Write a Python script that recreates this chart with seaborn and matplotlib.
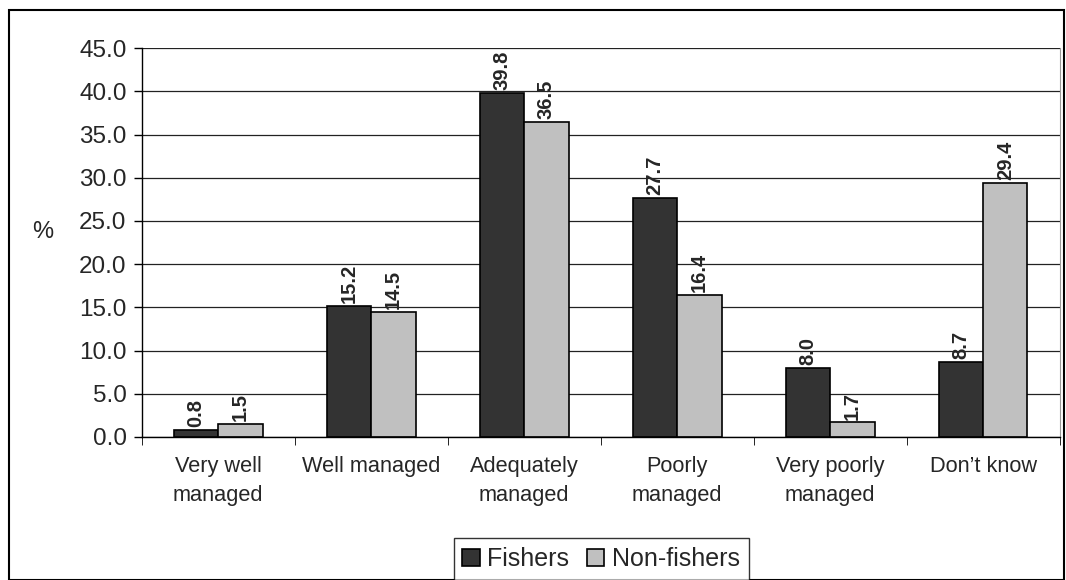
import pandas as pd
import matplotlib
matplotlib.use("Agg")
import matplotlib.pyplot as plt
import seaborn as sns
from matplotlib.patches import Rectangle

categories = ["Very well\nmanaged", "Well managed", "Adequately\nmanaged",
              "Poorly\nmanaged", "Very poorly\nmanaged", "Don\u2019t know"]
fishers = [0.8, 15.2, 39.8, 27.7, 8.0, 8.7]
non_fishers = [1.5, 14.5, 36.5, 16.4, 1.7, 29.4]
groups = ["Fishers", "Non-fishers"]
yticks = [0, 5, 10, 15, 20, 25, 30, 35, 40, 45]

df = pd.DataFrame({
    "category": categories * 2,
    "group": [groups[0]] * len(categories) + [groups[1]] * len(categories),
    "value": fishers + non_fishers,
})

sns.set_style("white")
plt.rcParams["font.family"] = ["Liberation Sans", "DejaVu Sans"]

fig = plt.figure(figsize=(10.66, 5.8), dpi=100)
ax = fig.add_axes([0.133, 0.2466, 0.861, 0.6704])

sns.barplot(data=df, x="category", y="value", hue="group", ax=ax,
            palette=["#333333", "#C0C0C0"], width=0.58,
            edgecolor="black", linewidth=1.2, saturation=1, legend=True)

for cont in ax.containers:
    ax.bar_label(cont, fmt="%.1f", rotation=90, padding=2,
                 fontsize=14.5, fontweight="bold")

ax.set_ylim(0, 45)
ax.set_yticks(yticks)
ax.set_yticklabels([f"{t:.1f}" for t in yticks], fontsize=17.5)
ax.yaxis.grid(True, color="#222222", linewidth=0.9)
ax.set_axisbelow(True)
ax.set_xlim(-0.5, len(categories) - 0.5)
ax.set_xlabel("")
ax.set_ylabel("%", fontsize=17, rotation=0)
ax.yaxis.set_label_coords(-0.108, 0.5)
ax.set_xticks(range(len(categories)))
ax.set_xticklabels(categories, fontsize=15.7, linespacing=1.5)
ax.tick_params(axis="x", length=0, pad=14)
ax.tick_params(axis="y", length=6, width=1, left=True, color="black", pad=5)

# ticks at category boundaries
ax.set_xticks([i - 0.5 for i in range(len(categories) + 1)], minor=True)
ax.tick_params(axis="x", which="minor", length=6, bottom=True, color="black")

for side in ["left", "bottom"]:
    ax.spines[side].set_color("black")
    ax.spines[side].set_linewidth(1)
ax.spines["top"].set_visible(False)
ax.spines["right"].set_color("#999999")

handles, labels = ax.get_legend_handles_labels()
ax.get_legend().remove()
leg = fig.legend(handles, labels, loc="center",
                 bbox_to_anchor=(0.564, 0.036), fontsize=18, frameon=True,
                 fancybox=False, edgecolor="black", handlelength=0.7,
                 handleheight=0.7, handletextpad=0.3, columnspacing=0.7,
                 ncol=2, borderpad=0.35, borderaxespad=0)
leg.get_frame().set_linewidth(1)

fig.patches.append(Rectangle((0.008, 0.0), 0.99, 0.982, transform=fig.transFigure,
                             fill=False, edgecolor="black", linewidth=1.5))

fig.savefig("out.png", dpi=100)
